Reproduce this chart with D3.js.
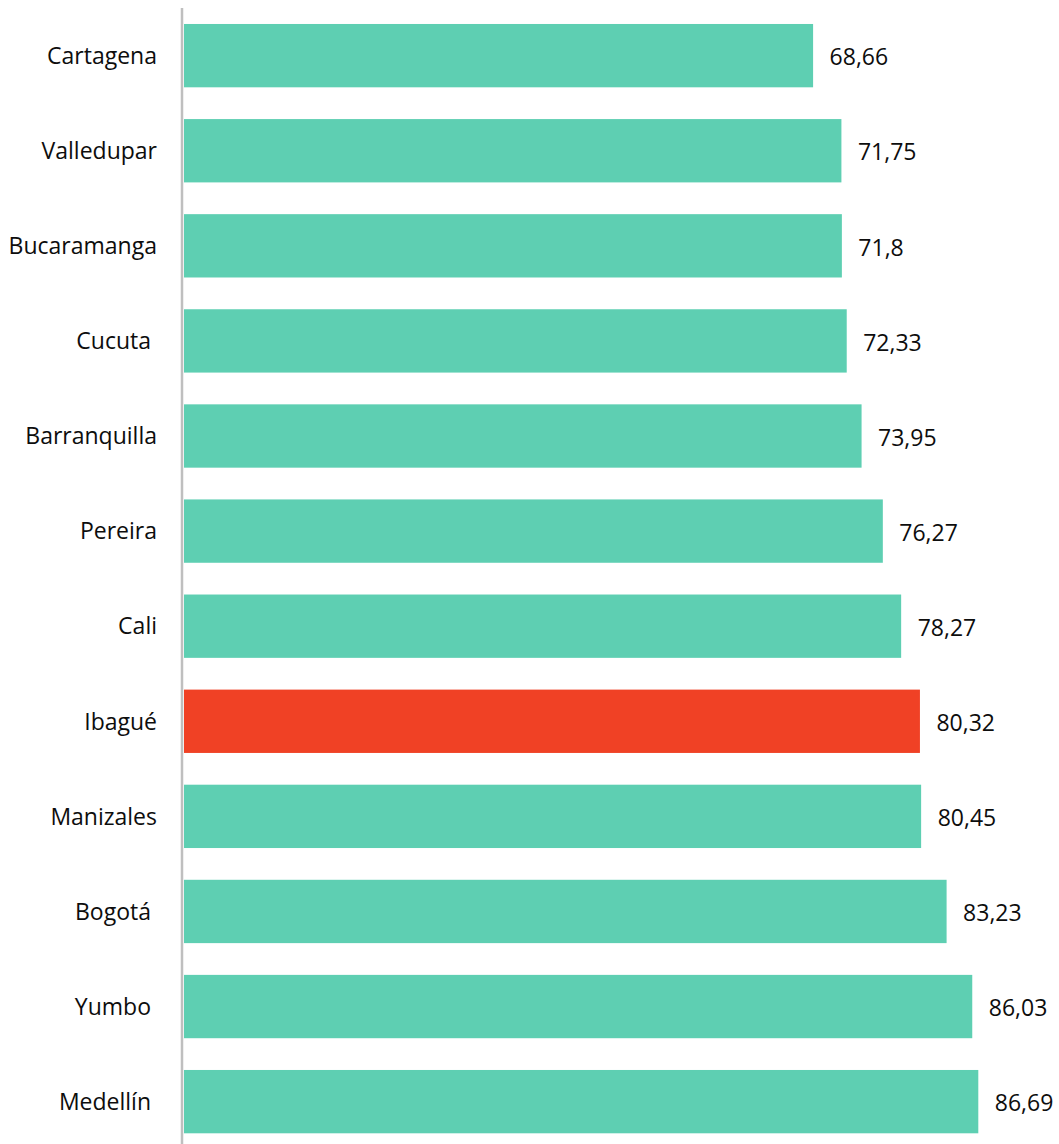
<!DOCTYPE html>
<html>
<head>
<meta charset="utf-8">
<script src="https://cdn.jsdelivr.net/npm/d3@7"></script>
<style>
  html, body { margin: 0; padding: 0; background: #fff; }
  svg { display: block; }
</style>
</head>
<body>
<svg id="chart" width="1059" height="1144"></svg>
<script>
const categories = ["Cartagena", "Valledupar", "Bucaramanga", "Cucuta ", "Barranquilla", "Pereira", "Cali", "Ibagué", "Manizales", "Bogotá ", "Yumbo ", "Medellín "];
const values = [68.66, 71.75, 71.8, 72.33, 73.95, 76.27, 78.27, 80.32, 80.45, 83.23, 86.03, 86.69];
const valueLabels = ["68,66", "71,75", "71,8", "72,33", "73,95", "76,27", "78,27", "80,32", "80,45", "83,23", "86,03", "86,69"];
const highlight = ["Ibagué"];

const svg = d3.select("#chart");
const FONT = "'Open Sans', 'Noto Sans', sans-serif";

const x = d3.scaleLinear().domain([0, 86.69]).range([184, 978.3]);
const y = d3.scaleBand().domain(categories).range([8.1, 8.1 + 95.09 * 12]).paddingInner(0.334).paddingOuter(0.167);

const data = categories.map((c, i) => ({ c, v: values[i], l: valueLabels[i] }));

svg.append("g").selectAll("rect").data(data).join("rect")
  .attr("x", x(0))
  .attr("y", d => y(d.c))
  .attr("width", d => x(d.v) - x(0))
  .attr("height", y.bandwidth())
  .attr("fill", d => highlight.includes(d.c) ? "#F04125" : "#5ECFB2");

// axis line
svg.append("line")
  .attr("x1", 182).attr("x2", 182)
  .attr("y1", 8).attr("y2", 1144)
  .attr("stroke", "#bfbfbf").attr("stroke-width", 2.5);

// category labels
svg.append("g").selectAll("text").data(data).join("text")
  .attr("x", 157)
  .attr("y", d => y(d.c) + y.bandwidth() / 2 + 8.3)
  .attr("text-anchor", "end")
  .style("white-space", "pre")
  .attr("font-family", FONT)
  .attr("font-size", 23)
  .attr("fill", "#0d0d0d")
  .text(d => d.c);

// value labels
svg.append("g").selectAll("text").data(data).join("text")
  .attr("x", d => x(d.v) + 16.5)
  .attr("y", d => y(d.c) + y.bandwidth() / 2 + 9.7)
  .attr("font-family", FONT)
  .attr("font-size", 23)
  .attr("fill", "#0d0d0d")
  .text(d => d.l);
</script>
</body>
</html>
